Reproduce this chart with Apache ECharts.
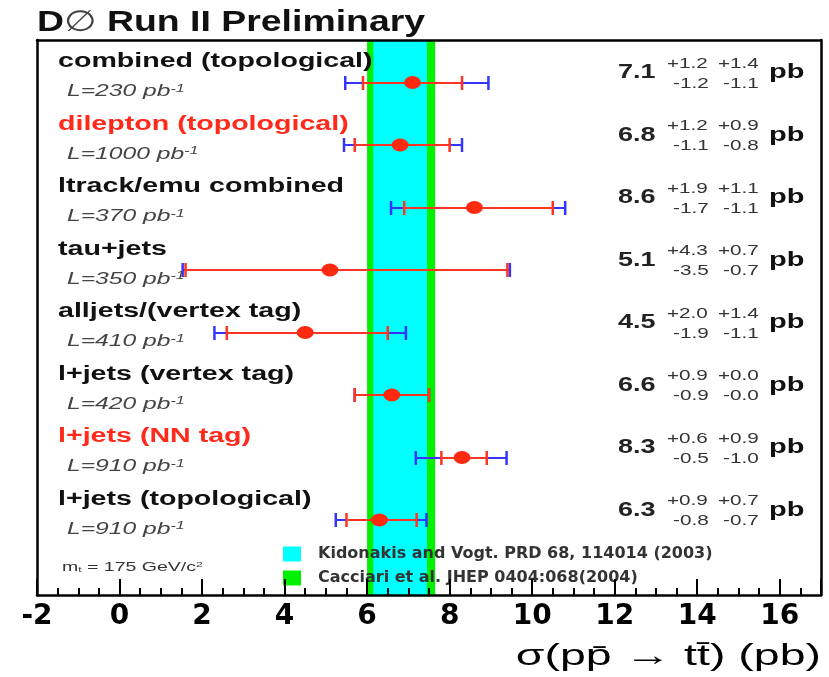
<!DOCTYPE html>
<html>
<head>
<meta charset="utf-8">
<script src="https://cdn.jsdelivr.net/npm/echarts@6/dist/echarts.min.js"></script>
<style>
  html, body { margin: 0; padding: 0; background: #fff; }
  #chart { width: 829px; height: 677px; }
</style>
</head>
<body>
<div id="chart"></div>
<script>
// measurements, top to bottom
const rowNames = [
  'combined (topological)',
  'dilepton (topological)',
  'ltrack/emu combined',
  'tau+jets',
  'alljets/(vertex tag)',
  'l+jets (vertex tag)',
  'l+jets (NN tag)',
  'l+jets (topological)'
];
const rowColors = ['#111', '#ff2a1a', '#111', '#111', '#111', '#111', '#ff2a1a', '#111'];
const lumi = [230, 1000, 370, 350, 410, 420, 910, 910];
const xsec = [7.1, 6.8, 8.6, 5.1, 4.5, 6.6, 8.3, 6.3];
const statUp = [1.2, 1.2, 1.9, 4.3, 2.0, 0.9, 0.6, 0.9];
const statDn = [1.2, 1.1, 1.7, 3.5, 1.9, 0.9, 0.5, 0.8];
const systUp = [1.4, 0.9, 1.1, 0.7, 1.4, 0.0, 0.9, 0.7];
const systDn = [1.1, 0.8, 1.1, 0.7, 1.1, 0.0, 1.0, 0.7];
// total (blue) error bars
const totUp = [1.84, 1.50, 2.20, 4.36, 2.44, 0.90, 1.08, 1.14];
const totDn = [1.63, 1.36, 2.02, 3.57, 2.20, 0.90, 1.12, 1.06];

const tickLabels = [-2, 0, 2, 4, 6, 8, 10, 12, 14, 16];

// theory bands (green one is drawn first, behind)
const bandNames = ['Cacciari et al. JHEP 0404:068(2004)', 'Kidonakis and Vogt. PRD 68, 114014 (2003)'];
const bandLo = [6.0, 6.15];
const bandHi = [7.65, 7.45];
const bandColors = ['#00f000', '#00ffff'];

const X_MIN = -2, X_MAX = 17, Y_MIN = -0.68, Y_MAX = 8.2;
const RED = '#ff3322', BLUE = '#3535ff';
const FONT = 'Liberation Sans';

const chart = echarts.init(document.getElementById('chart'));

// horizontal error bar with caps
function errBar(color) {
  return function (params, api) {
    const a = api.coord([api.value(0), api.value(2)]);
    const b = api.coord([api.value(1), api.value(2)]);
    const y = Math.round(a[1]);
    const h = 7;
    return {
      type: 'group',
      children: [
        { type: 'line', shape: { x1: a[0], y1: y, x2: b[0], y2: y }, style: { stroke: color, lineWidth: 2 } },
        { type: 'line', shape: { x1: a[0], y1: y - h, x2: a[0], y2: y + h }, style: { stroke: color, lineWidth: 2.5 } },
        { type: 'line', shape: { x1: b[0], y1: y - h, x2: b[0], y2: y + h }, style: { stroke: color, lineWidth: 2.5 } }
      ]
    };
  };
}

function txt(x, y, text, size, sx, extra) {
  return {
    type: 'text', x: x, y: y, scaleX: sx,
    style: Object.assign({
      text: text, x: 0, y: 0, fontSize: size, fontFamily: FONT, fill: '#111',
      align: 'left', verticalAlign: 'middle'
    }, extra || {})
  };
}

const sgn = (v, s) => s + v.toFixed(1);

// labels on the left, result on the right
function rowText(params, api) {
  const i = api.value(1);
  const l = api.coord([X_MIN, i]);
  const r = api.coord([X_MAX, i]);
  const y = l[1];
  return {
    type: 'group',
    children: [
      txt(l[0] + 21, y - 21, rowNames[i], 20, 1.43, { fontWeight: 'bold', fill: rowColors[i] }),
      txt(l[0] + 30, y + 9, '{n|L=' + lumi[i] + ' pb}{s|-1}', 17, 1.45, {
        fill: '#444',
        rich: {
          n: { fontSize: 17, fontStyle: 'italic', fontFamily: FONT, fill: '#444' },
          s: { fontSize: 11, fontStyle: 'italic', fontFamily: FONT, fill: '#444', verticalAlign: 'top' }
        }
      }),
      txt(r[0] - 203, y - 10, xsec[i].toFixed(1), 20, 1.35, { fontWeight: 'bold', fill: '#222' }),
      txt(r[0] - 154, y - 19, sgn(statUp[i], '+'), 15, 1.38, { fill: '#333' }),
      txt(r[0] - 103, y - 19, sgn(systUp[i], '+'), 15, 1.38, { fill: '#333' }),
      txt(r[0] - 148, y + 1, sgn(statDn[i], '-'), 15, 1.38, { fill: '#333' }),
      txt(r[0] - 98, y + 1, sgn(systDn[i], '-'), 15, 1.38, { fill: '#333' }),
      txt(r[0] - 52, y - 10, 'pb', 20, 1.45, { fontWeight: 'bold' })
    ]
  };
}

const axisBase = { type: 'value', min: X_MIN, max: X_MAX, z: 10, splitLine: { show: false } };
const frameLine = { show: true, onZero: false, lineStyle: { color: '#000', width: 2.5 } };

const option = {
  animation: false,
  backgroundColor: '#fff',
  grid: { left: 37, right: 8, top: 40, bottom: 82 },
  legend: {
    data: [bandNames[1], bandNames[0]],
    orient: 'vertical', left: 283, top: 546, padding: 0,
    itemWidth: 18, itemHeight: 15, itemGap: 8, icon: 'rect', selectedMode: false,
    textStyle: { fontFamily: 'DejaVu Sans', fontWeight: 'bold', fontSize: 16, color: '#333', lineHeight: 15, padding: [0, 0, 0, 12] }
  },
  xAxis: [
    Object.assign({}, axisBase, {
      position: 'bottom', interval: 0.5,
      axisLine: frameLine,
      axisTick: { show: true, inside: true, length: 7, lineStyle: { color: '#000', width: 2 } },
      axisLabel: {
        interval: 0, margin: 8, color: '#000', fontFamily: 'DejaVu Sans', fontWeight: 'bold', fontSize: 28,
        formatter: v => (tickLabels.indexOf(v) >= 0 ? String(v) : '')
      }
    }),
    Object.assign({}, axisBase, {
      position: 'bottom', interval: 2,
      axisLine: { show: false, onZero: false },
      axisTick: { show: true, inside: true, length: 16, lineStyle: { color: '#000', width: 2 } },
      axisLabel: { show: false }
    }),
    Object.assign({}, axisBase, {
      position: 'top',
      axisLine: frameLine,
      axisTick: { show: false }, axisLabel: { show: false }
    })
  ],
  yAxis: [
    { type: 'value', min: Y_MIN, max: Y_MAX, inverse: true, position: 'left', z: 10,
      axisLine: frameLine,
      axisTick: { show: false }, axisLabel: { show: false }, splitLine: { show: false } },
    { type: 'value', min: Y_MIN, max: Y_MAX, inverse: true, position: 'right', z: 10,
      axisLine: frameLine,
      axisTick: { show: false }, axisLabel: { show: false }, splitLine: { show: false } }
  ],
  graphic: [
    { type: 'text', x: 37, y: 23, scaleX: 1.29,
      style: { text: 'D{o|\u2205} Run II Preliminary', x: 0, y: 0, fontSize: 29, fontWeight: 'bold', fontFamily: FONT,
        fill: '#111', verticalAlign: 'middle',
        rich: { o: { fontSize: 29, fontWeight: 'normal', fontFamily: 'DejaVu Sans', fill: '#444' } } } },
    { type: 'text', x: 62, y: 567, scaleX: 1.5,
      style: { text: 'm{b|t} = 175 GeV/c{t|2}', x: 0, y: 0, fontSize: 13, fontFamily: FONT, fill: '#333', verticalAlign: 'middle',
        rich: { b: { fontSize: 8, fill: '#333', verticalAlign: 'bottom' }, t: { fontSize: 8, fill: '#333', verticalAlign: 'top' } } } },
    { type: 'text', x: 821, y: 657, scaleX: 1.55,
      style: { text: '\u03c3(pp\u0304 \u2192 tt\u0304) (pb)', x: 0, y: 0, fontSize: 30, fontFamily: FONT, fill: '#000',
        align: 'right', verticalAlign: 'middle' } }
  ],
  series: [
    ...bandNames.map((name, k) => ({
      name: name, type: 'custom', xAxisIndex: 0, yAxisIndex: 0,
      itemStyle: { color: bandColors[k] },
      encode: { x: [0, 1] },
      data: [[bandLo[k], bandHi[k]]],
      renderItem: (params, api) => {
        const a = api.coord([api.value(0), Y_MIN]);
        const b = api.coord([api.value(1), Y_MAX]);
        return { type: 'rect', shape: { x: a[0], y: a[1], width: b[0] - a[0], height: b[1] - a[1] },
          style: { fill: bandColors[k] } };
      }
    })),
    {
      name: 'total', type: 'custom', renderItem: errBar(BLUE),
      encode: { x: [0, 1], y: 2 },
      data: xsec.map((v, i) => [v - totDn[i], v + totUp[i], i])
    },
    {
      name: 'stat', type: 'custom', renderItem: errBar(RED),
      encode: { x: [0, 1], y: 2 },
      data: xsec.map((v, i) => [v - statDn[i], v + statUp[i], i])
    },
    {
      name: 'xsec', type: 'scatter', symbol: 'circle', symbolSize: [17, 13],
      itemStyle: { color: '#ff2a10', opacity: 1 },
      data: xsec.map((v, i) => [v, i])
    },
    {
      name: 'labels', type: 'custom', renderItem: rowText, clip: false,
      encode: { x: 0, y: 1 },
      data: xsec.map((v, i) => [v, i])
    }
  ]
};

chart.setOption(option);
</script>
</body>
</html>
